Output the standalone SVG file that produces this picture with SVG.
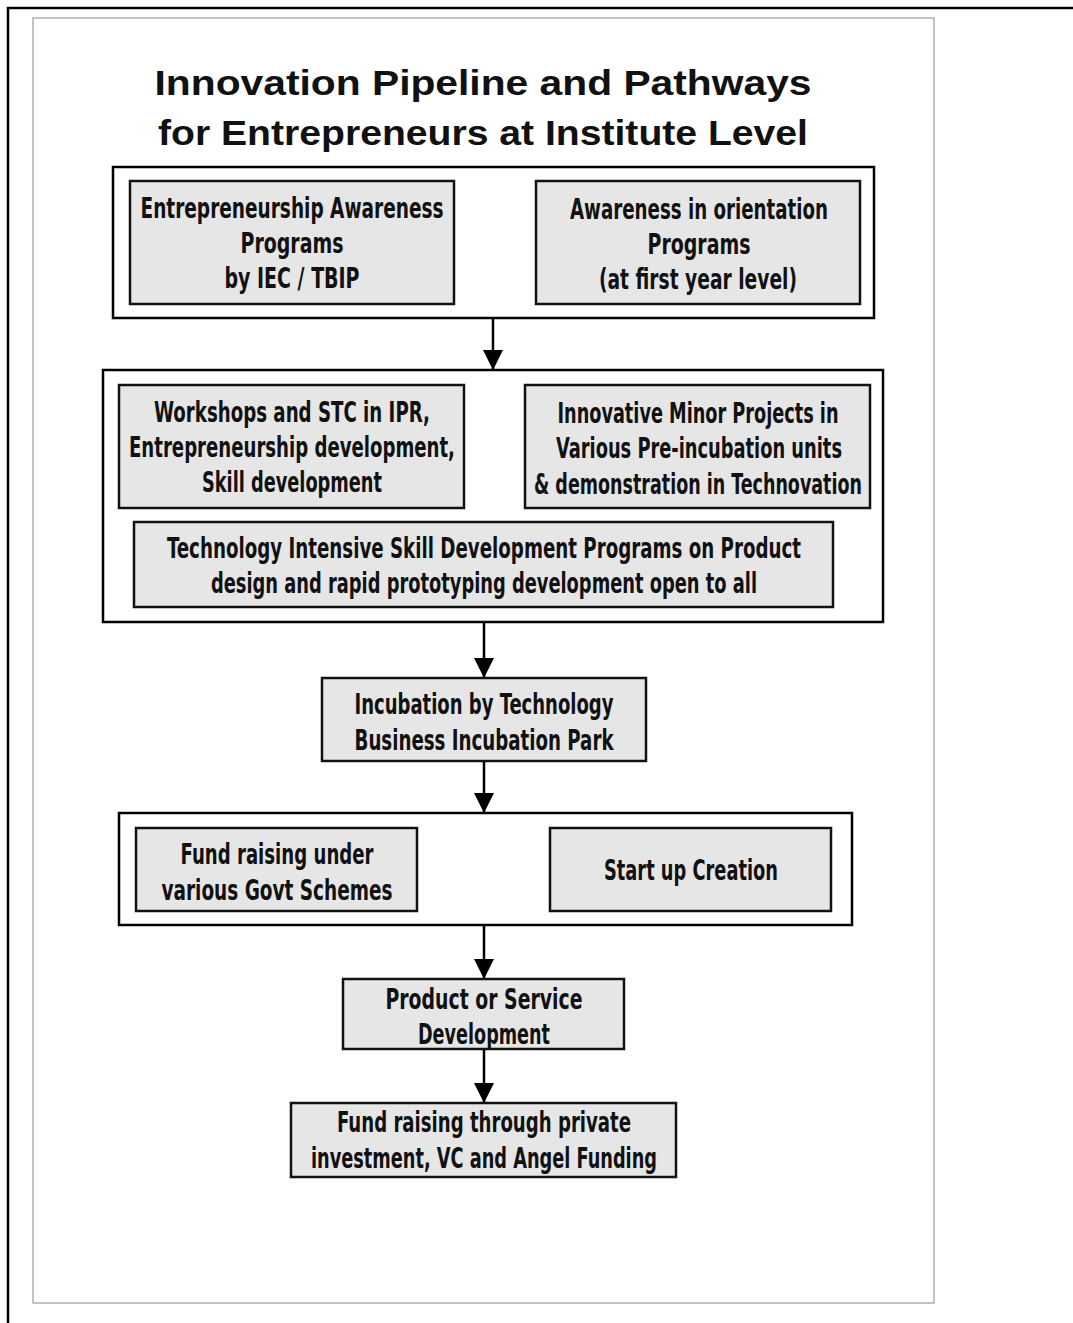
<svg xmlns="http://www.w3.org/2000/svg" width="1073" height="1323" viewBox="0 0 1073 1323">
<defs>
<style>
.frame{fill:none;stroke:#000;stroke-width:2.5}
.panel{fill:#fff;stroke:#9a9a9a;stroke-width:1.2}
.grp{fill:#fff;stroke:#000;stroke-width:2.5}
.box{fill:#e6e6e6;stroke:#111;stroke-width:2.5}
.t{font-family:"Liberation Sans Narrow","DejaVu Sans Condensed","Liberation Sans",sans-serif;font-weight:bold;font-size:29px;fill:#111;text-anchor:middle}
.title{font-family:"Liberation Sans","DejaVu Sans",sans-serif;font-weight:bold;font-size:35px;fill:#111;text-anchor:middle}
.conn{stroke:#000;stroke-width:2.5;fill:none}
</style>
<marker id="ah" markerWidth="20" markerHeight="20" viewBox="0 0 20 20" refX="20" refY="10" orient="auto" markerUnits="userSpaceOnUse">
<path d="M0,0 L20,10 L0,20 Z" fill="#000"/>
</marker>
</defs>
<rect width="1073" height="1323" fill="#fff"/>
<path class="frame" d="M8,1323 V8 H1073"/>
<rect class="panel" x="33" y="18" width="901" height="1285"/>
<g id="title">
<text class="title" x="483" y="95" textLength="657" lengthAdjust="spacingAndGlyphs">Innovation Pipeline and Pathways</text>
<text class="title" x="483" y="145" textLength="650" lengthAdjust="spacingAndGlyphs">for Entrepreneurs at Institute Level</text>
</g>
<g id="group1">
<rect class="grp" x="113" y="167" width="761" height="151"/>
<g id="n-awareness-programs">
<rect class="box" x="130" y="181" width="324" height="123"/>
<text class="t" x="292" y="218" textLength="303" lengthAdjust="spacingAndGlyphs">Entrepreneurship Awareness</text>
<text class="t" x="292" y="253" textLength="103" lengthAdjust="spacingAndGlyphs">Programs</text>
<text class="t" x="292" y="288" textLength="135" lengthAdjust="spacingAndGlyphs">by IEC / TBIP</text>
</g>
<g id="n-orientation">
<rect class="box" x="536" y="181" width="324" height="123"/>
<text class="t" x="699" y="219" textLength="258" lengthAdjust="spacingAndGlyphs">Awareness in orientation</text>
<text class="t" x="699" y="254" textLength="103" lengthAdjust="spacingAndGlyphs">Programs</text>
<text class="t" x="698" y="289" textLength="198" lengthAdjust="spacingAndGlyphs">(at first year level)</text>
</g>
</g>
<g id="group2">
<rect class="grp" x="103" y="370" width="780" height="252"/>
<g id="n-workshops">
<rect class="box" x="119" y="385" width="345" height="123"/>
<text class="t" x="292" y="422" textLength="276" lengthAdjust="spacingAndGlyphs">Workshops and STC in IPR,</text>
<text class="t" x="292" y="457" textLength="326" lengthAdjust="spacingAndGlyphs">Entrepreneurship development,</text>
<text class="t" x="292" y="492" textLength="180" lengthAdjust="spacingAndGlyphs">Skill development</text>
</g>
<g id="n-minor-projects">
<rect class="box" x="525" y="385" width="345" height="123"/>
<text class="t" x="698" y="423" textLength="281" lengthAdjust="spacingAndGlyphs">Innovative Minor Projects in</text>
<text class="t" x="699" y="458" textLength="286" lengthAdjust="spacingAndGlyphs">Various Pre-incubation units</text>
<text class="t" x="698" y="494" textLength="328" lengthAdjust="spacingAndGlyphs">&amp; demonstration in Technovation</text>
</g>
<g id="n-tech-skill">
<rect class="box" x="134" y="522" width="699" height="85"/>
<text class="t" x="484" y="558" textLength="634" lengthAdjust="spacingAndGlyphs">Technology Intensive Skill Development Programs on Product</text>
<text class="t" x="484" y="593" textLength="546" lengthAdjust="spacingAndGlyphs">design and rapid prototyping development open to all</text>
</g>
</g>
<g id="n-incubation">
<rect class="box" x="322" y="678" width="324" height="83"/>
<text class="t" x="484" y="714" textLength="259" lengthAdjust="spacingAndGlyphs">Incubation by Technology</text>
<text class="t" x="484" y="750" textLength="259" lengthAdjust="spacingAndGlyphs">Business Incubation Park</text>
</g>
<g id="group3">
<rect class="grp" x="119" y="813" width="733" height="112"/>
<g id="n-govt-funds">
<rect class="box" x="136" y="828" width="281" height="83"/>
<text class="t" x="277" y="864" textLength="193" lengthAdjust="spacingAndGlyphs">Fund raising under</text>
<text class="t" x="277" y="900" textLength="231" lengthAdjust="spacingAndGlyphs">various Govt Schemes</text>
</g>
<g id="n-startup">
<rect class="box" x="550" y="828" width="281" height="83"/>
<text class="t" x="691" y="880" textLength="174" lengthAdjust="spacingAndGlyphs">Start up Creation</text>
</g>
</g>
<g id="n-product">
<rect class="box" x="343" y="979" width="281" height="70"/>
<text class="t" x="484" y="1009" textLength="197" lengthAdjust="spacingAndGlyphs">Product or Service</text>
<text class="t" x="484" y="1044" textLength="132" lengthAdjust="spacingAndGlyphs">Development</text>
</g>
<g id="n-private-funding">
<rect class="box" x="291" y="1103" width="385" height="74"/>
<text class="t" x="484" y="1132" textLength="294" lengthAdjust="spacingAndGlyphs">Fund raising through private</text>
<text class="t" x="484" y="1168" textLength="346" lengthAdjust="spacingAndGlyphs">investment, VC and Angel Funding</text>
</g>
<g id="connectors">
<line class="conn" x1="493" y1="319" x2="493" y2="370" marker-end="url(#ah)"/>
<line class="conn" x1="484" y1="623" x2="484" y2="678" marker-end="url(#ah)"/>
<line class="conn" x1="484" y1="762" x2="484" y2="813" marker-end="url(#ah)"/>
<line class="conn" x1="484" y1="926" x2="484" y2="979" marker-end="url(#ah)"/>
<line class="conn" x1="484" y1="1050" x2="484" y2="1103" marker-end="url(#ah)"/>
</g>
</svg>
